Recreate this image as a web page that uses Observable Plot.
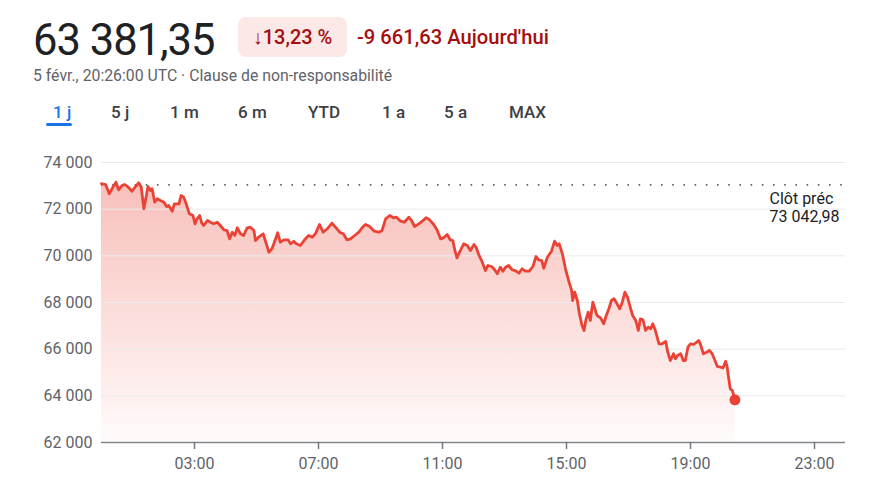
<!DOCTYPE html>
<html lang="fr">
<head>
<meta charset="utf-8">
<script src="https://cdn.jsdelivr.net/npm/d3@7"></script>
<script src="https://cdn.jsdelivr.net/npm/@observablehq/plot@0.6"></script>
<style>
  html, body { margin: 0; padding: 0; background: #fff; }
  body { width: 887px; height: 493px; position: relative; overflow: hidden; font-family: Roboto, "Noto Sans", sans-serif; }
  .abs { position: absolute; white-space: nowrap; }
  #price { left: 33px; top: 19px; font-size: 43.5px; line-height: 43px; letter-spacing: -1px; color: #202124; }
  #badge { left: 238px; top: 17px; width: 109px; height: 40px; border-radius: 8px; background: #fce8e6; color: #a50e0e; font-size: 20px; font-weight: 500; line-height: 40px; text-align: center; }
  #change { left: 357px; top: 17px; line-height: 40px; font-size: 20.2px; font-weight: 500; color: #a50e0e; }
  #sub { left: 33px; top: 66px; font-size: 15.8px; line-height: 20px; color: #5f6368; }
  .tab { top: 101px; font-size: 17px; font-weight: 500; line-height: 22px; color: #3c4043; }
  .tab.active { color: #1a73e8; }
  #underline { left: 46px; top: 123px; width: 26px; height: 3px; border-radius: 2px; background: #1a73e8; }
  #chart { left: 0; top: 140px; }
</style>
</head>
<body>
<div id="price" class="abs"></div>
<div id="badge" class="abs"></div>
<div id="change" class="abs"></div>
<div id="sub" class="abs"></div>
<div id="tabs"></div>
<div id="underline" class="abs"></div>
<div id="chart" class="abs"></div>
<script>
// ---- header texts ----
const priceText = "63 381,35";
const badgeText = "↓13,23 %";
const changeText = "-9 661,63 Aujourd'hui";
const subText = "5 févr., 20:26:00 UTC · Clause de non-responsabilité";
const tabLabels = ["1 j", "5 j", "1 m", "6 m", "YTD", "1 a", "5 a", "MAX"];
const tabLefts = [53, 111, 170, 238, 308, 382, 444, 509];

// ---- chart data ----
const day = "2024-02-05";
const times = [
  "00:00","00:08","00:15","00:24","00:28","00:33","00:40","00:45","00:52","00:59",
  "01:06","01:12","01:17","01:22","01:25","01:30","01:35","01:38","01:43","01:48",
  "01:54","02:01","02:06","02:10","02:17","02:21","02:30","02:34","02:39","02:44",
  "02:50","02:57","03:01","03:05","03:10","03:14","03:18","03:25","03:31","03:37",
  "03:44","03:50","03:57","04:03","04:08","04:13","04:18","04:23","04:29","04:35",
  "04:42","04:48","04:55","04:58","05:04","05:13","05:17","05:24","05:30","05:37",
  "05:41","05:46","05:53","06:01","06:06","06:12","06:17","06:25","06:33","06:41",
  "06:48","06:54","07:02","07:09","07:17","07:26","07:33","07:41","07:48","07:55",
  "08:02","08:10","08:18","08:25","08:31","08:39","08:48","08:57","09:03","09:10",
  "09:18","09:25","09:31","09:39","09:46","09:55","10:00","10:06","10:14","10:21",
  "10:28","10:35","10:43","10:50","10:56","11:02","11:09","11:15","11:20","11:24",
  "11:28","11:33","11:41","11:48","11:54","12:01","12:05","12:10","12:17","12:23",
  "12:28","12:35","12:41","12:46","12:52","12:57","13:02","13:08","13:15","13:21",
  "13:28","13:34","13:41","13:48","13:55","14:01","14:06","14:12","14:16","14:23",
  "14:31","14:37","14:42","14:46","14:52","14:58","15:05","15:10","15:12","15:16",
  "15:21","15:25","15:30","15:34","15:38","15:42","15:46","15:51","15:55","15:59",
  "16:06","16:12","16:17","16:22","16:27","16:32","16:36","16:43","16:48","16:53",
  "16:58","17:02","17:08","17:14","17:19","17:23","17:28","17:33","17:38","17:43",
  "17:47","17:52","17:59","18:05","18:12","18:16","18:21","18:27","18:31","18:35",
  "18:41","18:46","18:50","18:55","19:00","19:06","19:12","19:16","19:19","19:25",
  "19:31","19:37","19:42","19:46","19:52","19:58","20:03","20:08","20:11","20:14",
  "20:17","20:21","20:26"
];
const values = [
  73090,73057,72659,73014,73156,72830,73014,73057,72941,72770,
  72971,73130,72941,72016,72371,72971,72800,72873,72299,72444,
  72371,72299,72114,72157,71913,72230,72230,72586,72513,72230,
  71801,71729,71373,71587,71729,71399,71300,71514,71441,71373,
  71441,71300,71116,71086,70730,71013,70871,71201,70944,70871,
  71201,71227,71086,70657,70799,70944,70657,70156,70301,70730,
  70987,70584,70687,70687,70516,70627,70516,70443,70687,70871,
  70799,70944,71343,71013,71159,71399,71227,71013,70944,70687,
  70730,70871,71013,71227,71343,71257,71056,71013,71086,71587,
  71729,71630,71656,71484,71441,71656,71514,71257,71373,71484,
  71630,71544,71343,71086,70730,70773,70914,70687,70657,70229,
  69916,70156,70516,70443,70229,70486,70370,70057,69727,69371,
  69586,69543,69401,69230,69513,69341,69513,69586,69401,69371,
  69256,69444,69341,69341,69543,69971,69830,69800,69470,69941,
  70199,70627,70443,70516,70087,69444,68870,68514,68086,68441,
  68086,67516,67014,66800,67301,67584,67229,68013,67730,67443,
  67344,67087,67443,67730,68086,68159,68013,67730,68013,68441,
  68227,67914,67443,67229,66800,67301,67259,66800,66941,66873,
  67087,66800,66230,66230,66329,65870,65514,65801,65587,65729,
  65801,65514,65514,66084,66230,66200,66299,66371,66230,65801,
  65870,65943,65801,65587,65257,65227,65201,65484,65227,64730,
  64301,64229,63830
];
const prevClose = 73042.98;
const prevCloseLabel = "Clôt préc";
const prevCloseText = "73 042,98";
const yTicks = [62000, 64000, 66000, 68000, 70000, 72000, 74000];
const xTickLabels = ["03:00", "07:00", "11:00", "15:00", "19:00", "23:00"];
const xDomainLabels = ["00:00", "24:00"];

// ---- header ----
document.getElementById("price").textContent = priceText;
document.getElementById("badge").textContent = badgeText;
document.getElementById("change").textContent = changeText;
document.getElementById("sub").textContent = subText;
const tabsEl = document.getElementById("tabs");
tabLabels.forEach((t, i) => {
  const d = document.createElement("div");
  d.className = "abs tab" + (i === 0 ? " active" : "");
  d.style.left = tabLefts[i] + "px";
  d.textContent = t;
  tabsEl.appendChild(d);
});

// ---- chart ----
const toDate = t => t === "24:00" ? new Date(`2024-02-06T00:00:00Z`) : new Date(`${day}T${t}:00Z`);
const data = times.map((t, i) => ({ t: toDate(t), v: values[i] }));
const last = data[data.length - 1];
const fmtY = d => d3.format(",")(d).replace(/,/g, " ");
const fmtX = d3.utcFormat("%H:%M");

const gradientDefs = () => {
  const ns = "http://www.w3.org/2000/svg";
  const defs = document.createElementNS(ns, "defs");
  defs.innerHTML = `<linearGradient id="fillGrad" x1="0" y1="0" x2="0" y2="1">
      <stop offset="0" stop-color="#ea4335" stop-opacity="0.34"></stop>
      <stop offset="1" stop-color="#ea4335" stop-opacity="0.02"></stop>
    </linearGradient>`;
  return defs;
};

const chart = Plot.plot({
  width: 887,
  height: 353,
  marginLeft: 101,
  marginRight: 42,
  marginTop: 22,
  marginBottom: 51,
  style: { fontFamily: "Roboto, sans-serif", fontSize: "16px", color: "#5f6368", background: "transparent", overflow: "visible" },
  x: { type: "utc", domain: xDomainLabels.map(toDate), label: null },
  y: { domain: [62000, 74000], label: null },
  marks: [
    gradientDefs,
    Plot.areaY(data, { x: "t", y1: 62000, y2: "v", fill: "url(#fillGrad)" }),
    Plot.gridY(yTicks.slice(1), { stroke: "#e8eaed", strokeOpacity: 1, strokeWidth: 1 }),
    Plot.ruleY([prevClose], { stroke: "#5f6368", strokeWidth: 1.6, strokeDasharray: "1.6 9.6" }),
    Plot.lineY(data, { x: "t", y: "v", stroke: "#ea4335", strokeWidth: 2.8, strokeLinejoin: "round" }),
    Plot.dot([last], { x: "t", y: "v", r: 5.5, fill: "#ea4335" }),
    Plot.text([prevClose], { y: d => d, frameAnchor: "right", textAnchor: "start", lineAnchor: "top", dx: -76, dy: 6, lineHeight: 1.13, fontSize: 16, fill: "#202124", text: () => prevCloseLabel + "\n" + prevCloseText }),
    Plot.ruleY([62000], { stroke: "#80868b", strokeWidth: 1.5 }),
    Plot.axisY(yTicks, { tickSize: 0, tickPadding: 9, tickFormat: fmtY, fill: "#5f6368", fontSize: 16, label: null }),
    Plot.axisX(xTickLabels.map(toDate), { tickSize: 7, tickPadding: 8, tickFormat: fmtX, stroke: "#70757a", strokeWidth: 1.5, fill: "#5f6368", fontSize: 16, label: null })
  ]
});
document.getElementById("chart").appendChild(chart);
</script>
</body>
</html>
